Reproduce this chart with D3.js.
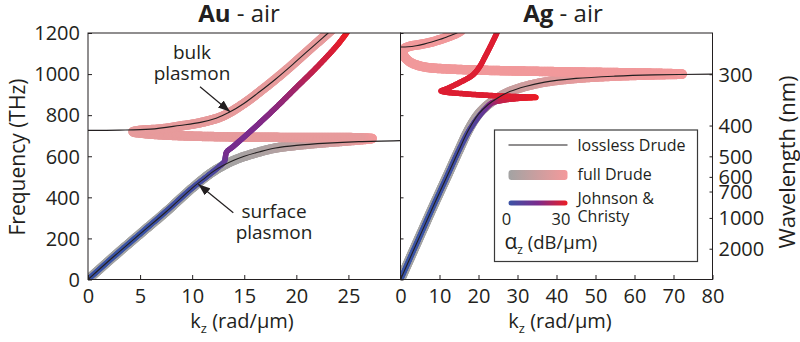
<!DOCTYPE html>
<html>
<head>
<meta charset="utf-8">
<script src="https://cdn.jsdelivr.net/npm/d3@7"></script>
<style>
  body { margin: 0; background: #fff; }
  svg { font-family: "Open Sans", sans-serif; }
  .axis path { display: none; }
  .axis line { stroke: #231f20; }
  .axis text { font-size: 20px; fill: #231f20; font-family: "Open Sans", sans-serif; }
</style>
</head>
<body>
<div id="chart"></div>
<script>
// tick values
const auKTicks = [0, 5, 10, 15, 20, 25];
const agKTicks = [0, 10, 20, 30, 40, 50, 60, 70, 80];
const freqTicks = [0, 200, 400, 600, 800, 1000, 1200];
const wavelengthTicks = [300, 400, 500, 600, 700, 1000, 2000];

// Au - air, [k (rad/um), f (THz)] and [k, f, alpha (dB/um)]
const auLosslessUpper = [[0, 726], [3, 727], [6, 732], [8.8, 750], [10.8, 765], [12.3, 785], [13.6, 815], [15, 858],
  [16.5, 915], [18, 975], [19.5, 1040], [21, 1108], [22.5, 1175], [23.6, 1225]];
const auLosslessLower = [[0, 0], [2.5, 113], [5, 222], [7.5, 330], [10, 445], [11, 485], [12, 525], [13, 556],
  [14, 580], [15, 600], [16.5, 622], [18, 640], [20, 653], [23, 664], [26, 671], [30, 676]];
const auDrude = [[0, 0, 0], [2.5, 113, 0], [5, 222, 0], [7.5, 330, 0], [10, 445, 0], [12, 525, 0], [14, 580, 1],
  [16.5, 622, 3], [18, 640, 5], [20, 653, 9], [22, 663, 14], [24, 671, 19], [26, 679, 25], [27.3, 686, 30],
  [26, 690, 30], [22, 691, 30], [18, 692, 30], [14, 694, 30], [10, 698, 30], [7.5, 703, 30], [5.5, 710, 30],
  [4.3, 719, 30], [5, 726, 28], [7, 733, 25], [9, 748, 20], [11, 766, 14], [13, 797, 9], [15, 858, 5],
  [17, 935, 3], [19, 1018, 1], [21, 1108, 0], [23, 1198, 0], [23.6, 1225, 0]];
const auJC = [[0, 0, 0], [2.5, 113, 0], [5, 222, 0], [7.5, 332, 1], [10, 445, 2], [11.5, 505, 3], [12.6, 550, 5],
  [13.1, 575, 8], [13.2, 600, 12], [13.3, 620, 14], [14, 650, 14], [16, 740, 15], [18, 835, 17], [20, 935, 20],
  [22, 1035, 25], [24, 1145, 28], [24.9, 1205, 30]];

// Ag - air
const agLosslessUpper = [[0, 1132], [2, 1133], [4, 1138], [6, 1146], [8, 1156], [10, 1168], [12, 1182], [14, 1196], [15, 1206]];
const agLosslessLower = [[0, 0], [4, 170], [8, 340], [12, 505], [15, 630], [17.5, 730], [20, 805], [22.5, 852],
  [25, 885], [28, 915], [32, 940], [37, 961], [45, 979], [55, 990], [65, 996], [80, 1000]];
const agDrude = [[0, 0, 0], [4, 170, 0], [8, 340, 0], [12, 505, 0], [15, 630, 1], [17.5, 730, 2], [20, 805, 4],
  [22.5, 852, 7], [25, 885, 10], [28, 915, 13], [32, 940, 16], [37, 961, 20], [45, 979, 24], [55, 990, 27],
  [65, 996, 29], [72.4, 1000, 30], [66, 1004, 30], [56, 1007, 30], [46, 1010, 30], [36, 1013, 30], [25, 1017, 30],
  [17, 1021, 30], [11, 1026, 30], [7, 1032, 30], [4.5, 1042, 30], [2.5, 1058, 30], [1.2, 1080, 30], [0.6, 1105, 28],
  [1, 1124, 22], [2.5, 1136, 14], [5, 1144, 10], [8, 1156, 9], [11, 1174, 8], [14, 1195, 8], [15.5, 1210, 8]];
const agJC = [[0, 0, 0], [4, 170, 0], [8, 340, 0], [12, 505, 1], [15, 630, 2], [17.5, 722, 4], [20, 792, 7],
  [22, 836, 11], [23.5, 860, 17], [26, 872, 24], [30, 881, 28], [34.8, 887, 30], [30, 890, 30], [25, 894, 30],
  [20, 899, 30], [15, 906, 30], [11.5, 912, 30], [10.4, 918, 30], [11.5, 926, 30], [15.3, 960, 29], [18.5, 995, 28],
  [20.3, 1036, 27], [21.7, 1085, 26], [23, 1133, 25], [24.7, 1200, 25], [25, 1215, 25]];

const C = 299792.458; // nm * THz

const width = 800, height = 342;
const plotTop = 33, plotBottom = 279.5;
const auLeft = 88, mid = 400.5, agRight = 712.5;
const ink = "#231f20";

const svg = d3.select("#chart").append("svg")
    .attr("width", width)
    .attr("height", height);

const y = d3.scaleLinear().domain([0, 1200]).range([plotBottom, plotTop]);
const xAu = d3.scaleLinear().domain([0, 30]).range([auLeft, mid]);
const xAg = d3.scaleLinear().domain([0, 80]).range([mid, agRight]);

const drudeColor = d3.scaleLinear().domain([0, 30]).range(["#a3a3a3", "#f4999b"]);
const jcColor = d3.scaleLinear().domain([0, 15, 30]).range(["#3a53a5", "#7b2b8c", "#ec1c24"]);

const defs = svg.append("defs");
[["clipAu", auLeft, mid], ["clipAg", mid, agRight]].forEach(c => {
    defs.append("clipPath").attr("id", c[0])
        .append("rect")
        .attr("x", c[1]).attr("y", plotTop)
        .attr("width", c[2] - c[1]).attr("height", plotBottom - plotTop);
});

defs.append("marker")
    .attr("id", "arrow")
    .attr("markerUnits", "userSpaceOnUse")
    .attr("markerWidth", 12).attr("markerHeight", 9)
    .attr("refX", 12).attr("refY", 4.5)
    .attr("orient", "auto")
    .append("path")
    .attr("d", "M0,0 L12,4.5 L0,9 Z")
    .attr("fill", ink);

function project(p, a, b) {
    const dx = b[0] - a[0], dy = b[1] - a[1];
    const len2 = dx * dx + dy * dy || 1;
    return ((p.x - a[0]) * dx + (p.y - a[1]) * dy) / len2;
}

// thick line whose colour follows the loss value along the curve
function lossLine(g, data, x, color, w) {
    const line = d3.line().x(d => x(d[0])).y(d => y(d[1])).curve(d3.curveCatmullRom.alpha(0.5));
    const guide = g.append("path").attr("d", line(data)).attr("fill", "none");
    const node = guide.node(), total = node.getTotalLength();
    const pts = data.map(d => [x(d[0]), y(d[1]), d[2]]);
    let j = 0;
    const samples = d3.range(0, total, 1.5).concat([total]).map(l => {
        const p = node.getPointAtLength(l);
        let t = project(p, pts[j], pts[j + 1]);
        while (t > 1 && j < pts.length - 2) {
            j++;
            t = project(p, pts[j], pts[j + 1]);
        }
        t = Math.max(0, Math.min(1, t));
        return { x: p.x, y: p.y, a: pts[j][2] + t * (pts[j + 1][2] - pts[j][2]) };
    });
    guide.remove();

    g.append("g").selectAll("line")
        .data(d3.pairs(samples))
        .join("line")
        .attr("x1", d => d[0].x).attr("y1", d => d[0].y)
        .attr("x2", d => d[1].x).attr("y2", d => d[1].y)
        .attr("stroke", d => color((d[0].a + d[1].a) / 2))
        .attr("stroke-width", w)
        .attr("stroke-linecap", "round");
}

function thinLine(g, data, x) {
    g.append("path")
        .datum(data)
        .attr("d", d3.line().x(d => x(d[0])).y(d => y(d[1])).curve(d3.curveCatmullRom.alpha(0.5)))
        .attr("fill", "none")
        .attr("stroke", ink)
        .attr("stroke-width", 1.1);
}

// curves
const gAu = svg.append("g").attr("clip-path", "url(#clipAu)");
lossLine(gAu, auDrude, xAu, drudeColor, 9.5);
lossLine(gAu, auJC, xAu, jcColor, 5.5);
thinLine(gAu, auLosslessUpper, xAu);
thinLine(gAu, auLosslessLower, xAu);

const gAg = svg.append("g").attr("clip-path", "url(#clipAg)");
lossLine(gAg, agDrude, xAg, drudeColor, 9.5);
lossLine(gAg, agJC, xAg, jcColor, 5.5);
thinLine(gAg, agLosslessUpper, xAg);
thinLine(gAg, agLosslessLower, xAg);

// frames
[[auLeft, mid], [mid, agRight]].forEach(p => {
    svg.append("rect")
        .attr("x", p[0]).attr("y", plotTop)
        .attr("width", p[1] - p[0]).attr("height", plotBottom - plotTop)
        .attr("fill", "none")
        .attr("stroke", ink)
        .attr("stroke-width", 1);
});

// axes
svg.append("g").attr("class", "axis")
    .attr("transform", "translate(" + auLeft + ",0)")
    .call(d3.axisLeft(y).tickValues(freqTicks).tickFormat(d3.format("d"))
        .tickSizeInner(-4).tickSizeOuter(0).tickPadding(8))
    .selectAll("text").attr("dy", "0.34em");

svg.append("g").attr("class", "axis")
    .attr("transform", "translate(" + mid + ",0)")
    .call(d3.axisRight(y).tickValues(freqTicks).tickSizeInner(3).tickSizeOuter(0).tickFormat(""));

svg.append("g").attr("class", "axis")
    .attr("transform", "translate(" + agRight + ",0)")
    .call(d3.axisRight(y).tickValues(wavelengthTicks.map(l => C / l))
        .tickFormat((d, i) => wavelengthTicks[i])
        .tickSizeInner(-3).tickSizeOuter(0).tickPadding(6))
    .selectAll("text").attr("dy", "0.34em");

svg.append("g").attr("class", "axis")
    .attr("transform", "translate(0," + plotBottom + ")")
    .call(d3.axisBottom(xAu).tickValues(auKTicks).tickSizeInner(-4.5).tickSizeOuter(0).tickPadding(9.5));

svg.append("g").attr("class", "axis")
    .attr("transform", "translate(0," + plotBottom + ")")
    .call(d3.axisBottom(xAg).tickValues(agKTicks).tickSizeInner(-4.5).tickSizeOuter(0).tickPadding(9.5));

// axis titles
function kLabel(cx) {
    const t = svg.append("text")
        .attr("x", cx).attr("y", 327.5)
        .attr("text-anchor", "middle")
        .attr("font-size", 20)
        .attr("fill", ink);
    t.append("tspan").text("k");
    t.append("tspan").attr("font-size", 13).attr("dy", 5).text("z");
    t.append("tspan").attr("dy", -5).text(" (rad/μm)");
}
kLabel(242);
kLabel(560);

svg.append("text")
    .attr("transform", "translate(25,157) rotate(-90)")
    .attr("text-anchor", "middle")
    .attr("font-size", 21)
    .attr("fill", ink)
    .text("Frequency (THz)");

svg.append("text")
    .attr("transform", "translate(795,162) rotate(-90)")
    .attr("text-anchor", "middle")
    .attr("font-size", 22)
    .attr("fill", ink)
    .text("Wavelength (nm)");

// panel titles
function title(cx, metal) {
    const t = svg.append("text")
        .attr("x", cx).attr("y", 21.5)
        .attr("text-anchor", "middle")
        .attr("font-size", 24)
        .attr("fill", ink);
    t.append("tspan").attr("font-weight", "bold").text(metal);
    t.append("tspan").text(" - air");
}
title(239, "Au");
title(563, "Ag");

// annotations
function note(cx, y0, lines) {
    lines.forEach((s, i) => {
        svg.append("text")
            .attr("x", cx).attr("y", y0 + i * 21)
            .attr("text-anchor", "middle")
            .attr("font-size", 19)
            .attr("fill", ink)
            .text(s);
    });
}
note(192, 59, ["bulk", "plasmon"]);
note(274, 218, ["surface", "plasmon"]);

[[200, 86.7, 230, 111.7], [233.3, 212.7, 198.3, 184.3]].forEach(a => {
    svg.append("line")
        .attr("x1", a[0]).attr("y1", a[1])
        .attr("x2", a[2]).attr("y2", a[3])
        .attr("stroke", ink)
        .attr("stroke-width", 1.2)
        .attr("marker-end", "url(#arrow)");
});

// legend
const legend = svg.append("g");
legend.append("rect")
    .attr("x", 494.5).attr("y", 130)
    .attr("width", 203).attr("height", 131.5)
    .attr("fill", "#fff")
    .attr("stroke", "#3a3a3a")
    .attr("stroke-width", 1.2);

const lx0 = 508.5, lx1 = 567.5;
legend.append("line")
    .attr("x1", lx0).attr("x2", lx1)
    .attr("y1", 145).attr("y2", 145)
    .attr("stroke", ink).attr("stroke-width", 1.1);

[["gradDrude", drudeColor], ["gradJC", jcColor]].forEach(g => {
    const lg = defs.append("linearGradient").attr("id", g[0]);
    [0, 0.25, 0.5, 0.75, 1].forEach(s => {
        lg.append("stop").attr("offset", s).attr("stop-color", g[1](s * 30));
    });
});

legend.append("rect")
    .attr("x", lx0).attr("y", 170)
    .attr("width", lx1 - lx0).attr("height", 10)
    .attr("rx", 3)
    .attr("fill", "url(#gradDrude)");
legend.append("rect")
    .attr("x", lx0).attr("y", 200.5)
    .attr("width", lx1 - lx0).attr("height", 5)
    .attr("rx", 2.5)
    .attr("fill", "url(#gradJC)");

const legendText = [["lossless Drude", 577.5, 150.5], ["full Drude", 577.5, 180], ["Johnson &", 577.5, 204], ["Christy", 577.5, 222]];
legendText.forEach(d => {
    legend.append("text")
        .attr("x", d[1]).attr("y", d[2])
        .attr("font-size", 16)
        .attr("fill", ink)
        .text(d[0]);
});
[["0", 506.5], ["30", 561]].forEach(d => {
    legend.append("text")
        .attr("x", d[1]).attr("y", 225)
        .attr("text-anchor", "middle")
        .attr("font-size", 16.5)
        .attr("fill", ink)
        .text(d[0]);
});
const alpha = legend.append("text")
    .attr("x", 504.5).attr("y", 248.5)
    .attr("font-size", 18.5)
    .attr("fill", ink);
alpha.append("tspan").attr("font-size", 21).text("α");
alpha.append("tspan").attr("font-size", 12).attr("dy", 5).text("z");
alpha.append("tspan").attr("dy", -5).text(" (dB/μm)");
</script>
</body>
</html>
